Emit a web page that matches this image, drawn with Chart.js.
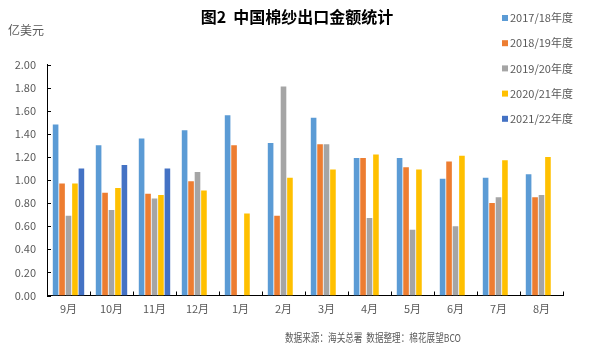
<!DOCTYPE html>
<html>
<head>
<meta charset="utf-8">
<script src="https://cdn.jsdelivr.net/npm/chart.js@4/dist/chart.umd.min.js"></script>
<style>
html,body{margin:0;padding:0;background:#fff;}
#wrap{width:600px;height:354px;position:relative;}
</style>
</head>
<body>
<div id="wrap"><canvas id="c" width="600" height="354"></canvas></div>
<script>
const months = ["9月","10月","11月","12月","1月","2月","3月","4月","5月","6月","7月","8月"];
const seasons = ["2017/18年度","2018/19年度","2019/20年度","2020/21年度","2021/22年度"];
const colors = ["#5B9BD5","#ED7D31","#A5A5A5","#FFC000","#4472C4"];
const s1718 = [1.48,1.30,1.36,1.43,1.56,1.32,1.54,1.19,1.19,1.01,1.02,1.05];
const s1819 = [0.97,0.89,0.88,0.99,1.30,0.69,1.31,1.19,1.11,1.16,0.80,0.85];
const s1920 = [0.69,0.74,0.84,1.07,null,1.81,1.31,0.67,0.57,0.60,0.85,0.87];
const s2021 = [0.97,0.93,0.87,0.91,0.71,1.02,1.09,1.22,1.09,1.21,1.17,1.20];
const s2122 = [1.10,1.13,1.10,null,null,null,null,null,null,null,null,null];
const yTicks = [0,0.2,0.4,0.6,0.8,1.0,1.2,1.4,1.6,1.8,2.0];
const titleText = "图2  中国棉纱出口金额统计";
const unitText = "亿美元";
const sourceText = "数据来源：海关总署  数据整理：棉花展望BCO";

const series = [s1718,s1819,s1920,s2021,s2122];
const CJK = "'Noto Sans CJK SC','Microsoft YaHei',sans-serif";
const TXT = "#595959";

const decor = {
  id:'decor',
  afterDraw(chart){
    const ctx = chart.ctx;
    const ca = chart.chartArea;
    const xs = chart.scales.x, ys = chart.scales.y;
    ctx.save();
    ctx.strokeStyle = "#000"; ctx.lineWidth = 1;
    ctx.beginPath();
    ys.ticks.forEach((t,i)=>{
      const y = Math.round(ys.getPixelForTick(i))+0.5;
      ctx.moveTo(ca.left, y); ctx.lineTo(ca.left+4, y);
    });
    const n = months.length;
    const step = (ca.right-ca.left)/n;
    for(let i=1;i<=n;i++){
      const x = Math.round(xs.getPixelForValue(i-1)+step/2)+0.5;
      ctx.moveTo(x, ca.bottom); ctx.lineTo(x, ca.bottom-4);
    }
    ctx.stroke();
    ctx.fillStyle = "#000";
    ctx.font = "bold 16px " + CJK;
    ctx.textAlign = "center"; ctx.textBaseline = "middle";
    ctx.fillText(titleText, 297, 17);
    ctx.fillStyle = TXT;
    ctx.font = "12px " + CJK;
    ctx.textAlign = "left";
    ctx.fillText(unitText, 8, 30);
    ctx.font = "11px " + CJK;
    ctx.fillText(sourceText, 285, 338, 176);
    ctx.font = "11px " + CJK;
    seasons.forEach((s,i)=>{
      const y = 18 + i*25.2;
      ctx.fillStyle = colors[i];
      ctx.fillRect(502, y-3, 6, 6);
      ctx.fillStyle = TXT;
      ctx.fillText(s, 510, y);
    });
    ctx.restore();
  }
};

new Chart(document.getElementById('c'), {
  type:'bar',
  data:{
    labels: months,
    datasets: series.map((d,i)=>({
      label: seasons[i], data: d, backgroundColor: colors[i],
      categoryPercentage: 0.75, barPercentage: 0.87
    }))
  },
  options:{
    responsive:false, animation:false,
    layout:{padding:{left:0,top:64.5,right:37,bottom:0}},
    plugins:{legend:{display:false}, title:{display:false}, tooltip:{enabled:false}},
    scales:{
      x:{
        grid:{display:false, drawTicks:false},
        border:{display:true, color:"#000", width:1},
        ticks:{color:TXT, font:{size:11, family:CJK}, padding:7, maxRotation:0},
        afterFit(s){ s.height = 58.5; }
      },
      y:{
        min:0, max:2,
        afterBuildTicks(s){ s.ticks = yTicks.map(v=>({value:v})); },
        grid:{display:false, drawTicks:false},
        border:{display:true, color:"#000", width:1},
        ticks:{color:TXT, font:{size:11, family:CJK}, padding:11,
          callback:(v)=>Number(v).toFixed(2)},
        afterFit(s){ s.width = 47; }
      }
    }
  },
  plugins:[decor]
});
</script>
</body>
</html>
